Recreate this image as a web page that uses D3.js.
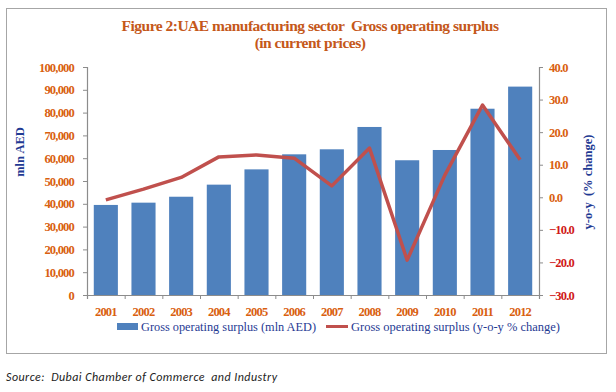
<!DOCTYPE html>
<html><head><meta charset="utf-8">
<script src="https://cdn.jsdelivr.net/npm/d3@7"></script>
<style>body{margin:0;background:#fff}svg{display:block}text{white-space:pre}</style>
</head><body>
<script>
const years = ["2001","2002","2003","2004","2005","2006","2007","2008","2009","2010","2011","2012"];
const surplusMln = [39500,40500,43100,48400,55100,61700,63900,73700,59100,63600,81700,91400];
const yoyChange = [-0.8,2.5,6.1,12.4,13.0,12.0,3.5,15.1,-19.3,6.8,28.3,11.5];
const leftTicks = [0,10000,20000,30000,40000,50000,60000,70000,80000,90000,100000];
const rightTicks = [-30,-20,-10,0,10,20,30,40];

const W=616,H=392;
const svg=d3.select("body").append("svg").attr("width",W).attr("height",H);
svg.append("rect").attr("width",W).attr("height",H).attr("fill","#fff");
svg.append("rect").attr("x",6.5).attr("y",8.5).attr("width",600).attr("height",345)
  .attr("fill","#fff").attr("stroke","#a6a6a6").attr("stroke-width",1);

const x0=87,x1=539,yTop=67,yBot=295;
const x=d3.scaleBand().domain(years).range([x0,x1]).paddingInner(0.36).paddingOuter(0.18);
const yL=d3.scaleLinear().domain([0,100000]).range([yBot,yTop]);
const yR=d3.scaleLinear().domain([-30,40]).range([yBot,yTop]);

const orange="#D9600F", serif="'Liberation Serif','Times New Roman',serif";

// bars
svg.append("g").selectAll("rect").data(years).join("rect")
  .attr("x",d=>x(d)).attr("width",x.bandwidth())
  .attr("y",(d,i)=>yL(surplusMln[i])).attr("height",(d,i)=>yBot-yL(surplusMln[i]))
  .attr("fill","#4F81BD");

// axes
const fmt=d3.format(",");
const gL=svg.append("g").attr("transform",`translate(${x0},0)`)
  .call(d3.axisLeft(yL).tickValues(leftTicks).tickFormat(fmt).tickSize(4).tickPadding(9));
const gR=svg.append("g").attr("transform",`translate(${x1},0)`)
  .call(d3.axisRight(yR).tickValues(rightTicks).tickFormat(d3.format(".1f")).tickSize(4).tickPadding(6));
const xb=d3.scaleLinear().domain([0,12]).range([x0,x1]);
const gB=svg.append("g").attr("transform",`translate(0,${yBot})`)
  .call(d3.axisBottom(xb).tickValues(d3.range(0,13)).tickFormat("").tickSize(4));
svg.append("g").attr("transform",`translate(0,${yBot})`)
  .call(d3.axisBottom(x).tickSize(0).tickPadding(12))
  .call(g=>g.select(".domain").remove());

svg.selectAll(".domain").attr("stroke","#8c8c8c").attr("stroke-width",1.2);
svg.selectAll(".tick line").attr("stroke","#8c8c8c");
svg.selectAll(".tick text").attr("font-family",serif).attr("font-weight","bold")
  .attr("font-size","12.5px").attr("fill",orange).attr("letter-spacing","-0.8px");
gR.selectAll(".tick text").attr("fill",d=>d<0?"#D01818":orange);

// line
const line=d3.line().x((d,i)=>x(years[i])+x.bandwidth()/2).y(d=>yR(d));
svg.append("path").datum(yoyChange).attr("d",line).attr("fill","none")
  .attr("stroke","#C0504D").attr("stroke-width",3.5).attr("stroke-linejoin","round");

// titles
const title=svg.append("text").attr("x",310).attr("text-anchor","middle")
  .attr("font-family",serif).attr("font-weight","bold").attr("font-size","15.5px").attr("fill","#C5581A")
  .attr("letter-spacing","-0.5px");
title.append("tspan").attr("x",310).attr("y",31).text("Figure 2:UAE manufacturing sector  Gross operating surplus");
title.append("tspan").attr("x",310).attr("y",48).text("(in current prices)");

svg.append("text").attr("transform","translate(24,152) rotate(-90)").attr("text-anchor","middle")
  .attr("font-family",serif).attr("font-weight","bold").attr("font-size","12.5px").attr("fill","#1F3A93")
  .text("mln AED");
svg.append("text").attr("transform","translate(592,182) rotate(-90)").attr("text-anchor","middle")
  .attr("font-family",serif).attr("font-weight","bold").attr("font-size","12.5px").attr("fill","#1F3A93")
  .text("y-o-y  (% change)");

// legend
const lg=svg.append("g").attr("font-family",serif).attr("font-size","13px").attr("fill","#1F3A93");
lg.append("rect").attr("x",117).attr("y",323).attr("width",21).attr("height",7).attr("fill","#4F81BD");
lg.append("text").attr("x",141).attr("y",331).attr("textLength",175).attr("lengthAdjust","spacingAndGlyphs")
  .text("Gross operating surplus (mln AED)");
lg.append("line").attr("x1",326).attr("x2",348).attr("y1",326.5).attr("y2",326.5).attr("stroke","#C0504D").attr("stroke-width",3);
lg.append("text").attr("x",351).attr("y",331).attr("textLength",209).attr("lengthAdjust","spacingAndGlyphs")
  .text("Gross operating surplus (y-o-y % change)");

svg.append("text").attr("x",6).attr("y",381).attr("font-family","Carlito,'Liberation Sans',sans-serif")
  .attr("font-style","italic").attr("font-size","12px").attr("fill","#222")
  .attr("textLength",271).attr("lengthAdjust","spacing")
  .text("Source:  Dubai Chamber of Commerce  and Industry");
</script>
</body></html>
